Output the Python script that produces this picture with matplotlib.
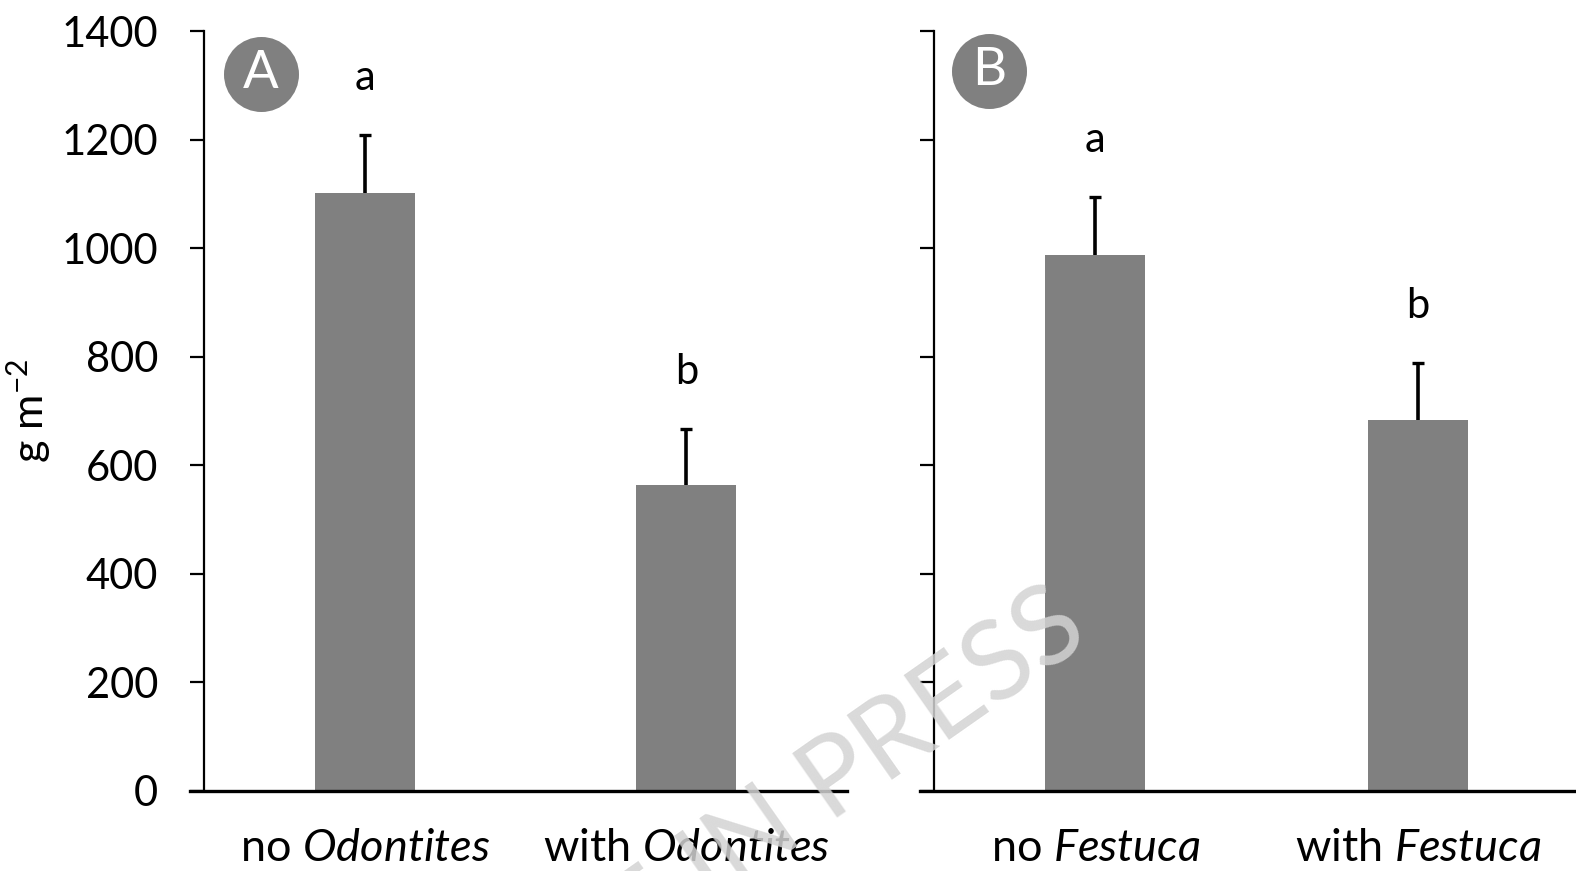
import matplotlib
matplotlib.use("Agg")
import matplotlib.pyplot as plt
import numpy as np

# Biomass (g m-2), means with standard errors and significance letters
panels = ["A", "B"]
categories_a = [r"no $\mathit{Odontites}$", r"with $\mathit{Odontites}$"]
categories_b = [r"no $\mathit{Festuca}$", r"with $\mathit{Festuca}$"]
means_a = [1101, 563]
errors_a = [108, 103]
means_b = [987, 683]
errors_b = [107, 106]
letters_a = ["a", "b"]
letters_b = ["a", "b"]
yticks = [0, 200, 400, 600, 800, 1000, 1200, 1400]

plt.rcParams["font.family"] = ["Lato", "DejaVu Sans"]
plt.rcParams["mathtext.fontset"] = "custom"
plt.rcParams["mathtext.rm"] = "Lato"
plt.rcParams["mathtext.it"] = "Lato:italic"
plt.rcParams["mathtext.bf"] = "Lato:bold"
plt.rcParams["mathtext.sf"] = "Lato"

BAR = "#808080"
W, H = 1576, 871
fig = plt.figure(figsize=(W / 100, H / 100), dpi=100, facecolor="white")

ax_a = fig.add_axes([204 / W, 1 - 790.6 / H, 643 / W, 759.5 / H], facecolor="none")
ax_b = fig.add_axes([934 / W, 1 - 790.6 / H, 645 / W, 759.5 / H], facecolor="none")

# translucent diagonal watermark laid over the plots
fig.text(1092 / W, 1 - 640 / H, "ARTICLE IN PRESS", fontsize=80, color="#d3d3d3",
         alpha=0.85, rotation=35, rotation_mode="anchor", ha="right",
         va="baseline", zorder=10)


def draw_panel(ax, cats, means, errs, letters, badge, badge_xy, show_labels):
    x = np.arange(len(cats))
    ax.bar(x, means, width=0.31, color=BAR, zorder=2)
    tops = np.array(means) + np.array(errs)
    ax.vlines(x, means, tops, color="black", lw=2.6, zorder=3)
    ax.hlines(tops, x - 0.019, x + 0.019, color="black", lw=2.4, zorder=3)
    for xi, t, lab in zip(x, tops, letters):
        ax.text(xi, t + 105, lab, ha="center", va="center", fontsize=30)

    ax.set_xlim(-0.5, 1.5)
    ax.set_ylim(0, 1400)
    ax.set_yticks(yticks)
    ax.set_xticks(x)
    ax.set_xticklabels(cats, fontsize=32.5)
    ax.tick_params(axis="x", length=0, pad=27)
    ax.tick_params(axis="y", direction="out", length=10, width=1.6,
                   labelsize=30, pad=23, labelleft=show_labels)
    for s in ("top", "right"):
        ax.spines[s].set_visible(False)
    ax.spines["left"].set_linewidth(1.6)
    ax.spines["bottom"].set_linewidth(2.4)
    ax.spines["bottom"].set_bounds(-0.5 - 14 / 322, 1.5)

    bx, by = badge_xy
    ax.plot([bx], [by], "o", ms=54, color=BAR, mec="none",
            transform=ax.transAxes, clip_on=False, zorder=4)
    ax.text(bx, by, badge, transform=ax.transAxes, ha="center", va="center",
            fontsize=38, color="white", zorder=5)


draw_panel(ax_a, categories_a, means_a, errors_a, letters_a, panels[0],
           (0.0886, 0.944), True)
draw_panel(ax_b, categories_b, means_b, errors_b, letters_b, panels[1],
           (0.0853, 0.948), False)

ax_a.set_ylabel(r"g m$^{\mathrm{-2}}$", fontsize=31)
ax_a.yaxis.set_label_coords(-0.235, 0.5)

fig.savefig("out.png", dpi=100, facecolor="white")
